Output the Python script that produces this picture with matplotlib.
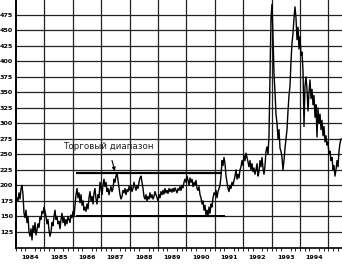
import numpy as np
import matplotlib
matplotlib.use("Agg")
import matplotlib.pyplot as plt
from matplotlib.ticker import MultipleLocator

# price series, sampled roughly every 2 weeks (fractional years)
start_year = 1984.0
step = 1 / 28.4  # one sample per pixel column of the original
prices = [
    # 1984
    172, 180, 175, 188, 178, 195, 200, 185, 155, 148, 160, 140, 150, 125, 118,
    130, 112, 135, 125, 140, 120, 128, 138, 132, 148, 145, 158, 155, 165,
    # 1985
    158, 150, 138, 145, 128, 118, 125, 140, 135, 150, 160, 145, 150, 138, 142,
    130, 145, 155, 140, 148, 135, 145, 138, 150, 145, 140, 152, 148, 158,
    # 1986
    150, 168, 185, 195, 180, 188, 172, 185, 168, 175, 160, 165, 158, 170, 162,
    180, 190, 175, 182, 170, 188, 195, 178, 170, 185, 180, 205, 195,
    # 1987
    185, 200, 210, 198, 205, 190, 195, 185, 192, 198, 190, 195, 210, 205, 215,
    220, 208, 195, 185, 178, 182, 192, 188, 195, 185, 193, 190, 198,
    # 1988
    192, 200, 190, 195, 205, 198, 192, 200, 195, 205, 212, 215, 205, 195, 182,
    178, 185, 175, 182, 178, 188, 180, 185, 178, 182, 190, 185, 180,
    # 1989
    175, 185, 180, 190, 185, 192, 186, 195, 188, 192, 187, 195, 190, 194, 189,
    195, 190, 196, 192, 188, 195, 192, 198, 192, 200, 196, 205, 210,
    # 1990
    205, 215, 208, 200, 212, 205, 210, 198, 205, 200, 208, 195, 192, 198, 185,
    180, 170, 175, 160, 168, 152, 160, 150, 165, 155, 170, 165, 180,
    # 1991
    188, 185, 192, 180, 190, 195, 200, 215, 240, 232, 245, 235, 215, 205, 195,
    190, 200, 195, 205, 200, 208, 215, 225, 210, 218, 212, 225, 230,
    # 1992
    240, 232, 248, 240, 252, 245, 238, 230, 240, 225, 235, 222, 228, 218, 225,
    235, 215, 222, 240, 230, 245, 228, 218, 232, 255, 262, 250, 280,
    # 1993
    380, 470, 492, 440, 380, 350, 315, 300, 275, 290, 260, 255, 245, 225, 240,
    260, 275, 290, 320, 345, 360, 400, 430, 445, 470, 488, 470, 435,
    # 1994
    455, 420, 440, 410, 415, 385, 295, 360, 375, 355, 320, 350, 370, 340, 355,
    330, 345, 310, 330, 278, 325, 300, 315, 290, 305, 280, 295, 270,
    # 1995
    280, 265, 270, 250, 255, 240, 245, 225, 232, 215, 225, 240, 230, 255, 268,
    275,
]
years = start_year + step * np.arange(len(prices))

year_labels = ["1984", "1985", "1986", "1987", "1988", "1989", "1990",
               "1991", "1992", "1993", "1994"]
range_top, range_bottom = 220, 150
range_start, range_end = 1986.1, 1991.3
note = "Торговый диапазон"

fig = plt.figure(figsize=(3.42, 2.69), dpi=100)
ax = fig.add_axes([16 / 342, 21 / 269, 1 - 16 / 342, 1 - 21 / 269])

ax.plot(years, prices, color="black", lw=1.0)

ax.hlines([range_top], range_start, range_end - 0.05, color="black", lw=1.6)
ax.hlines([range_bottom], range_start, range_end + 0.05, color="black", lw=1.4)
ax.annotate(note, xy=(1987.48, range_top + 3), xytext=(1987.25, 263),
            fontsize=6.3, ha="center", va="center", color="#222222",
            arrowprops=dict(arrowstyle="-|>", lw=0.8, color="black",
                            mutation_scale=5, shrinkA=5, shrinkB=0))

ax.set_xlim(1984, 1984 + 326 / 28.4)
ax.set_ylim(99, 499)

ax.set_yticks(range(125, 500, 25))
ax.set_yticklabels([str(v) for v in range(125, 500, 25)], fontsize=4.6,
                   fontweight="bold")
ax.set_xticks(np.arange(1984.5, 1995, 1.0))
ax.set_xticklabels(year_labels, fontsize=4.6, fontweight="bold")
ax.xaxis.set_minor_locator(MultipleLocator(1 / 6))
ax.tick_params(axis="x", which="major", length=0, pad=5)
ax.tick_params(axis="x", which="minor", length=2, width=0.6)
ax.tick_params(axis="y", length=0, pad=2)

for yr in range(1985, 1996):
    ax.axvline(yr, color="#222222", lw=0.9, zorder=0)
for v in range(125, 500, 25):
    ax.axhline(v, color="#222222", lw=0.9, zorder=0)

for side in ["top", "right"]:
    ax.spines[side].set_visible(False)
ax.spines["left"].set_linewidth(1.4)
ax.spines["bottom"].set_linewidth(1.2)

fig.savefig("out.png", dpi=100)
